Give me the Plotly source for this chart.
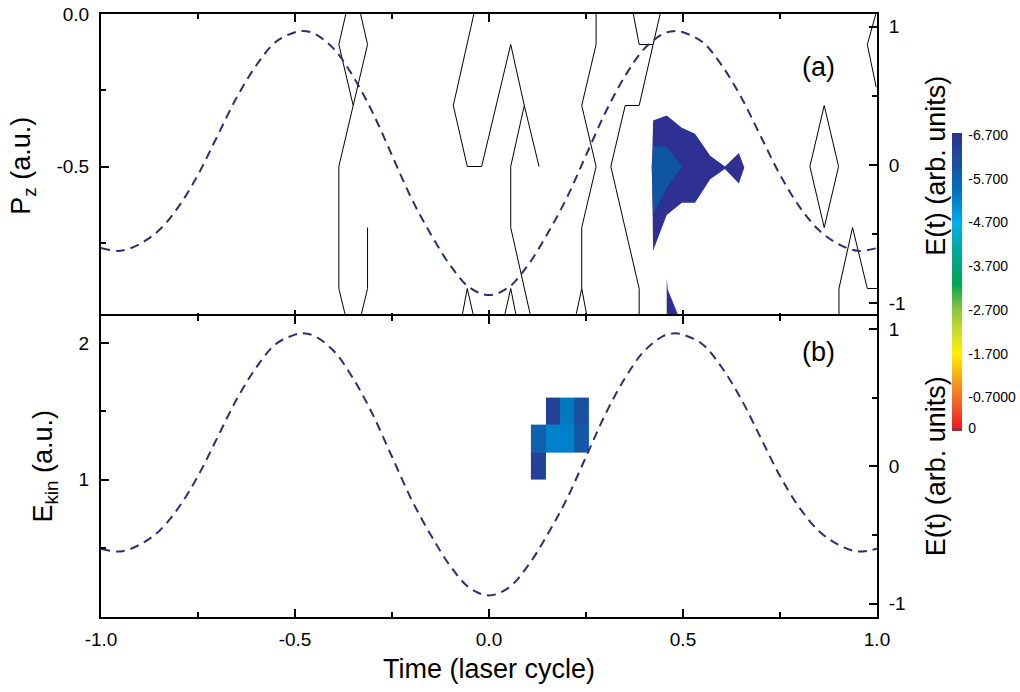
import plotly.graph_objects as go
from plotly.subplots import make_subplots

# ---------------- data ----------------
# laser field E(t) (arb. units)
T_FIELD = [-1.0, -0.95, -0.9, -0.85, -0.8, -0.75, -0.7, -0.65, -0.6, -0.55, -0.5, -0.48, -0.45,
           -0.4, -0.35, -0.3, -0.25, -0.2, -0.15, -0.1, -0.05, 0.0, 0.05, 0.1, 0.15, 0.2,
           0.25, 0.3, 0.35, 0.4, 0.45, 0.48, 0.5, 0.55, 0.6, 0.65, 0.7, 0.75, 0.8, 0.85, 0.9, 0.95, 1.0]
E_FIELD = [-0.60, -0.62, -0.57, -0.47, -0.30, -0.07, 0.21, 0.49, 0.72, 0.89, 0.96, 0.97, 0.95,
           0.84, 0.64, 0.38, 0.07, -0.24, -0.50, -0.725, -0.885, -0.94, -0.885, -0.725, -0.50, -0.24,
           0.07, 0.38, 0.64, 0.84, 0.95, 0.97, 0.96, 0.89, 0.72, 0.49, 0.21, -0.07, -0.30, -0.47, -0.57, -0.62, -0.60]

# contour lines of panel (a) (time, Pz), separate lines split by None
CONTOUR_T = [-0.369, -0.387, -0.350, -0.313, -0.331, None,
             -0.350, -0.387, -0.387, -0.369, None,
             -0.313, -0.313, -0.331, None,
             -0.039, -0.092, -0.056, -0.019, 0.056, 0.091, 0.129, None,
             0.091, 0.056, 0.056, 0.108, None,
             -0.070, -0.056, -0.039, None,
             0.039, 0.056, 0.071, None,
             0.276, 0.276, 0.239, 0.276, 0.239, 0.239, 0.223, None,
             0.239, 0.253, None,
             0.372, 0.387, 0.423, 0.441, None,
             0.423, 0.387, 0.351, 0.314, 0.387, 0.387, None,
             0.864, 0.827, 0.864, 0.901, 0.864, None,
             0.902, 0.902, 0.937, 0.975, 1.0, None,
             0.997, 0.975, 0.998]
CONTOUR_PZ = [0.0, -0.1, -0.3, -0.1, 0.0, None,
              -0.3, -0.5, -0.9, -0.995, None,
              -0.7, -0.9, -0.995, None,
              0.0, -0.3, -0.5, -0.5, -0.1, -0.3, -0.5, None,
              -0.3, -0.5, -0.7, -0.995, None,
              -0.995, -0.9, -0.995, None,
              -0.995, -0.9, -0.995, None,
              0.0, -0.1, -0.3, -0.5, -0.7, -0.9, -0.995, None,
              -0.9, -0.995, None,
              0.0, -0.1, -0.1, 0.0, None,
              -0.1, -0.3, -0.3, -0.5, -0.9, -0.995, None,
              -0.3, -0.5, -0.7, -0.5, -0.3, None,
              -0.995, -0.9, -0.7, -0.9, -0.9, None,
              0.0, -0.1, -0.24]

# filled regions of panel (a): outer level (-6.7), inner level (-6.2)
OUTER_T = [0.423, 0.458, 0.497, 0.531, 0.570, 0.608, 0.644, 0.658, 0.644, 0.608, 0.570,
           0.531, 0.497, 0.458, 0.423, 0.420]
OUTER_PZ = [-0.349, -0.333, -0.373, -0.393, -0.465, -0.500, -0.456, -0.503, -0.556, -0.508, -0.542,
            -0.619, -0.619, -0.659, -0.776, -0.500]
INNER_T = [0.423, 0.458, 0.497, 0.458, 0.423, 0.419]
INNER_PZ = [-0.432, -0.435, -0.500, -0.569, -0.657, -0.500]
SPIKE_T = [0.458, 0.458, 0.490, 0.461]
SPIKE_PZ = [-0.866, -0.995, -0.995, -0.904]

# panel (b) map: cell edges and values (log scale, negative)
EKIN_T_EDGES = [0.108, 0.147, 0.183, 0.219, 0.258]
EKIN_E_EDGES = [1.0, 1.2, 1.4, 1.6]
EKIN_Z = [[-6.4, None, None, None],
          [-5.75, -5.21, -5.23, -5.9],
          [None, -6.4, -5.32, -6.1]]

CBAR_VALUES = [0, -0.7, -1.7, -2.7, -3.7, -4.7, -5.7, -6.7]
CBAR_LABELS = ["0", "-0.7000", "-1.700", "-2.700", "-3.700", "-4.700", "-5.700", "-6.700"]

X_TICKS = [-1.0, -0.5, 0.0, 0.5, 1.0]
X_TICKTEXT = ["-1.0", "-0.5", "0.0", "0.5", "1.0"]

# ---------------- style ----------------
FONT = "Liberation Sans, Arial, sans-serif"
DASH_COLOR = "#2b2e72"
TICKFONT = dict(family=FONT, size=19, color="black")
TITLEFONT = dict(family=FONT, size=27, color="black")
DASH = dict(color=DASH_COLOR, width=2, dash="9px,6px")

colorscale = [
    [0.0, "#9e2d37"], [0.0103, "#9e2d37"], [0.0104, "#ed1c24"],
    [0.0836, "#f15a29"], [0.157, "#f7941d"], [0.260, "#fff200"],
    [0.333, "#cbdb2a"], [0.406, "#8dc63f"], [0.494, "#00a651"],
    [0.611, "#00a99d"], [0.699, "#00aeef"], [0.802, "#0072bc"],
    [0.905, "#1b4f9f"], [1.0, "#2e3192"],
]

fig = make_subplots(rows=2, cols=1, vertical_spacing=0,
                    specs=[[{"secondary_y": True}], [{"secondary_y": True}]])

# panel (a)
fig.add_trace(go.Scatter(x=OUTER_T, y=OUTER_PZ, fill="toself", mode="lines",
                         line=dict(width=0, color="#2e3192"), fillcolor="#2e3192",
                         showlegend=False, hoverinfo="skip"), row=1, col=1)
fig.add_trace(go.Scatter(x=INNER_T, y=INNER_PZ, fill="toself", mode="lines",
                         line=dict(width=0, color="#0f55a3"), fillcolor="#0f55a3",
                         showlegend=False, hoverinfo="skip"), row=1, col=1)
fig.add_trace(go.Scatter(x=SPIKE_T, y=SPIKE_PZ, fill="toself", mode="lines",
                         line=dict(width=0, color="#2e3192"), fillcolor="#2e3192",
                         showlegend=False, hoverinfo="skip"), row=1, col=1)
fig.add_trace(go.Scatter(x=CONTOUR_T, y=CONTOUR_PZ, mode="lines", connectgaps=False,
                         line=dict(color="black", width=1), showlegend=False),
              row=1, col=1)
fig.add_trace(go.Scatter(x=T_FIELD, y=E_FIELD, mode="lines", line_shape="spline",
                         line=DASH, showlegend=False), row=1, col=1, secondary_y=True)

# panel (b)
fig.add_trace(go.Heatmap(
    x=EKIN_T_EDGES, y=EKIN_E_EDGES,
    z=[[None if v is None else -v for v in row] for row in EKIN_Z],
    colorscale=colorscale, zmin=-0.07, zmax=6.75, zsmooth=False,
    colorbar=dict(x=(952 - 101) / 776, xanchor="left", y=(617 - 282) / 603, yanchor="middle",
                  len=298, lenmode="pixels", thickness=10, outlinewidth=0, xpad=0, ypad=0,
                  tickvals=[-v for v in CBAR_VALUES], ticktext=CBAR_LABELS,
                  ticks="outside", ticklen=4, tickcolor="rgba(0,0,0,0)",
                  tickfont=dict(family=FONT, size=14, color="black")),
    showlegend=False), row=2, col=1)
fig.add_trace(go.Scatter(x=T_FIELD, y=E_FIELD, mode="lines", line_shape="spline",
                         line=DASH, showlegend=False), row=2, col=1, secondary_y=True)

axis_common = dict(showgrid=False, zeroline=False, showline=True, linecolor="black",
                   linewidth=2, ticks="inside", ticklen=8, tickwidth=1.5, tickcolor="black",
                   tickfont=TICKFONT, automargin=False)
minor_common = dict(ticks="inside", ticklen=5, tickcolor="black", tickwidth=1.5)

# x axes
for ax in ["xaxis", "xaxis2"]:
    fig.layout[ax].update(**axis_common, range=[-1, 1], mirror="ticks", domain=[0.0, 1.0],
                          tickmode="array", tickvals=X_TICKS, ticktext=X_TICKTEXT,
                          minor=dict(tickvals=[-0.75, -0.25, 0.25, 0.75], **minor_common))
fig.layout.xaxis.update(showticklabels=False)
fig.layout.xaxis2.update(title=dict(text="Time (laser cycle)", font=TITLEFONT, standoff=10),
                         ticklabelstandoff=4)

SHIFT = 2 / 603
# top left
fig.layout.yaxis.update(**axis_common, range=[-0.995, 0], tickmode="array",
                        domain=[0.5 - SHIFT, 1.0],
                        tickvals=[0, -0.5], ticktext=["0.0", "-0.5"],
                        minor=dict(tickvals=[-0.25, -0.75], **minor_common),
                        ticklabelstandoff=6,
                        title=dict(text="P<sub>z</sub> (a.u.)", font=TITLEFONT, standoff=18))
# top right
fig.layout.yaxis2.update(**axis_common, range=[-1.102, 1.092], tickmode="array",
                         domain=[0.5 - SHIFT, 1.0],
                         tickvals=[-1, 0, 1], ticktext=["-1", "0", "1"],
                         minor=dict(tickvals=[-0.5, 0.5], **minor_common),
                         ticklabelstandoff=6,
                         title=dict(text="E(t) (arb. units)", font=TITLEFONT, standoff=21))
# bottom left
fig.layout.yaxis3.update(**axis_common, range=[-0.004, 2.2], tickmode="array",
                         tickvals=[1, 2], ticktext=["1", "2"],
                         minor=dict(tickvals=[0.5, 1.5], **minor_common),
                         ticklabelstandoff=6,
                         title=dict(text="E<sub>kin</sub> (a.u.)", font=TITLEFONT, standoff=18))
# bottom right
fig.layout.yaxis4.update(**axis_common, range=[-1.097, 1.099], tickmode="array",
                         tickvals=[-1, 0, 1], ticktext=["-1", "0", "1"],
                         minor=dict(tickvals=[-0.5, 0.5], **minor_common),
                         ticklabelstandoff=6,
                         title=dict(text="E(t) (arb. units)", font=TITLEFONT, standoff=21))

fig.add_annotation(text="(a)", xref="paper", yref="paper", x=(837 - 101) / 776,
                   y=(617 - 50) / 603, showarrow=False, font=dict(family=FONT, size=27, color="black"))
fig.add_annotation(text="(b)", xref="paper", yref="paper", x=(837 - 101) / 776,
                   y=(617 - 352) / 603, showarrow=False, font=dict(family=FONT, size=27, color="black"))

fig.update_layout(width=1020, height=692,
                  margin=dict(l=101, r=143, t=14, b=75, autoexpand=False),
                  plot_bgcolor="white", paper_bgcolor="white",
                  font=dict(family=FONT, color="black"), showlegend=False)

# remove the default 8 px page margin so the figure sits at the window origin
fig.write_html("out.html", config={"displayModeBar": False},
               post_script="document.body.style.margin='0';")
